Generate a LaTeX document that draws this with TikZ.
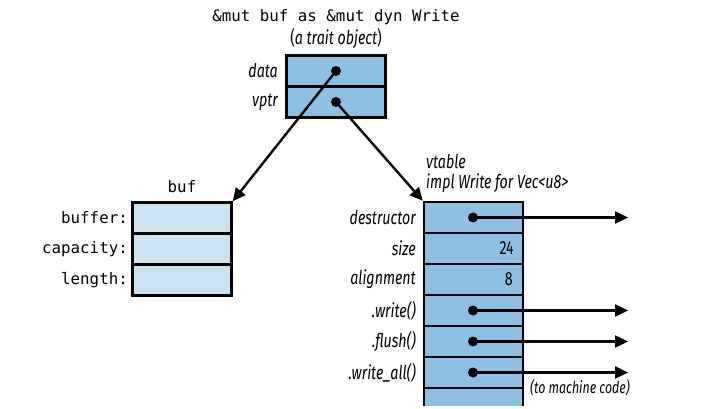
\documentclass[tikz,border=0pt]{standalone}
\usepackage{fontspec}
\setmonofont{DejaVu Sans Mono}
\newfontfamily\lab[FakeStretch=0.75]{Fira Sans}
\usetikzlibrary{arrows.meta}
\definecolor{cellblue}{RGB}{142,192,228}
\definecolor{lightblue}{RGB}{205,227,241}
\tikzset{
  cell/.style={draw, line width=2.4pt, fill=cellblue, minimum width=99pt, minimum height=31pt, inner sep=0pt},
  bufcell/.style={cell, fill=lightblue},
  txt/.style={font=\lab\fontsize{19}{21}\selectfont, inner sep=0pt},
  lbl/.style={txt, font=\lab\itshape\fontsize{19}{21}\selectfont, anchor=east},
  code/.style={font=\ttfamily\fontsize{15.8}{18}\selectfont, inner sep=0pt},
  ptr/.style={line width=2.4pt, -{Triangle[length=13pt,width=12pt]}},
  dot/.style={circle, fill=black, minimum size=10pt, inner sep=0pt},
}
\begin{document}
\begin{tikzpicture}[x=1pt,y=-1pt]
\useasboundingbox (0,0) rectangle (721,409);

% trait object (fat pointer)
\node[code] (title) at (336,17) {\&mut buf as \&mut dyn Write};
\node[txt] (sub) at (336,38) {(\textit{a trait object})};
\node[cell] (data) at (336,71) {};
\node[cell] (vptr) at (336,102) {};
\node[lbl] (ldata) at (278,71) {data};
\node[lbl] (lvptr) at (278,102) {vptr};
\node[dot] (ddata) at (336,71) {};
\node[dot] (dvptr) at (336,102) {};

% the Vec<u8> buffer
\node[code] (buftitle) at (182,187) {buf};
\node[bufcell] (buffer) at (182,218) {};
\node[bufcell] (capacity) at (182,249) {};
\node[bufcell] (length) at (182,280) {};
\node[code, anchor=east] (lbuffer) at (128,218) {buffer:};
\node[code, anchor=east] (lcapacity) at (128,249) {capacity:};
\node[code, anchor=east] (llength) at (128,280) {length:};

% vtable
\node[lbl, anchor=west] (vt1) at (426,161) {vtable};
\node[lbl, anchor=west] (vt2) at (426,183) {impl Write for Vec<u8>};
\fill[cellblue] (424,388) rectangle (523,406);
\draw[line width=2.4pt] (424,388) -- (424,406) (523,388) -- (523,406);
\node[cell] (destructor) at (473.5,217.5) {};
\node[cell] (size) at (473.5,248.5) {};
\node[cell] (alignment) at (473.5,279.5) {};
\node[cell] (write) at (473.5,310.5) {};
\node[cell] (flush) at (473.5,341.5) {};
\node[cell] (writeall) at (473.5,372.5) {};
\node[lbl] at (416,217.5) {destructor};
\node[lbl] at (416,248.5) {size};
\node[lbl] at (416,279.5) {alignment};
\node[lbl] at (416,310.5) {.write()};
\node[lbl] at (416,341.5) {.flush()};
\node[lbl] at (416,372.5) {.write\_all()};
\node[txt, anchor=east] (n24) at (514,248.5) {24};
\node[txt, anchor=east] (n8) at (513,279.5) {8};

\node[dot] (d1) at (473,217.5) {};
\node[dot] (d2) at (473,310.5) {};
\node[dot] (d3) at (473,341.5) {};
\node[dot] (d4) at (473,372.5) {};
\coordinate (e1) at (628,217.5);
\coordinate (e2) at (628,310.5);
\coordinate (e3) at (628,341.5);
\coordinate (e4) at (628,372.5);
\node[font=\lab\itshape\fontsize{16.5}{18}\selectfont, inner sep=0pt, anchor=west] (mc) at (530,388) {(to machine code)};

% pointers
\draw[ptr] (ddata.center) -- (buffer.north east);
\draw[ptr] (dvptr.center) -- (destructor.north west);
\draw[ptr] (d1.center) -- (e1);
\draw[ptr] (d2.center) -- (e2);
\draw[ptr] (d3.center) -- (e3);
\draw[ptr] (d4.center) -- (e4);
\end{tikzpicture}
\end{document}
